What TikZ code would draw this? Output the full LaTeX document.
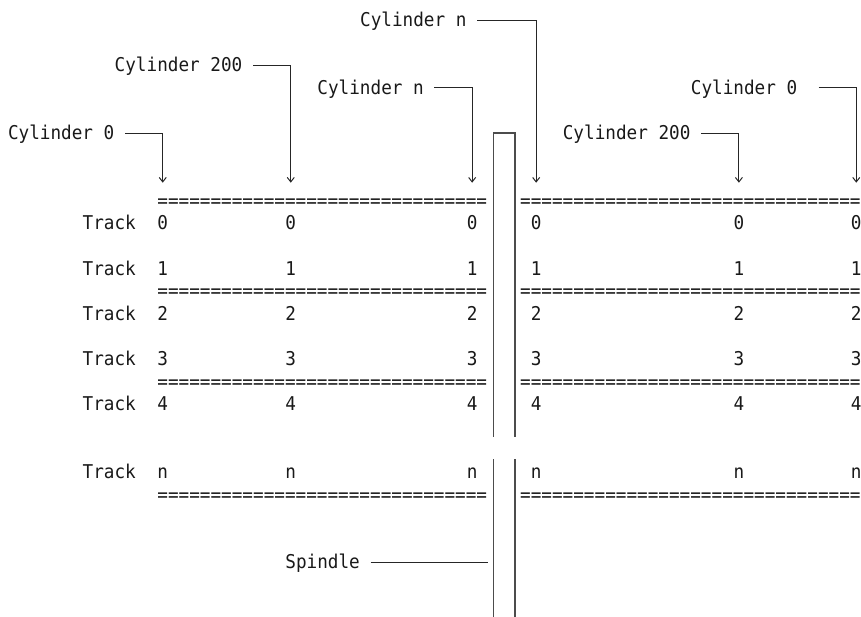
\documentclass[tikz,border=0pt]{standalone}
\usepackage{fontspec}
\newfontfamily\dmono[FakeStretch=0.93]{DejaVu Sans Mono}
\usetikzlibrary{arrows.meta}
\begin{document}
\begin{tikzpicture}[x=10.67pt,y=-22.6pt,
  txt/.style={font=\dmono\fontsize{19}{19}\selectfont, text=black!90, inner sep=0pt, outer sep=0pt, anchor=west, text height=15pt, text depth=2pt},
  conn/.style={draw=black!85, line width=1pt, -{Straight Barb[length=4.5pt,width=7pt]}},
  lead/.style={draw=black!85, line width=1pt},
  spin/.style={draw=black!70, line width=1.5pt}]
\useasboundingbox (0,0) rectangle (80.694,27.257);
\begin{scope}[shift={(0.75,0.885)}]
  % cylinder labels
  \node[txt] (cA) at (33,0) {Cylinder n};
  \node[txt] (cB) at (10,2) {Cylinder 200};
  \node[txt] (cC) at (29,3) {Cylinder n};
  \node[txt] (cD) at (64,3) {Cylinder 0};
  \node[txt] (cE) at (0,5)  {Cylinder 0};
  \node[txt] (cF) at (52,5) {Cylinder 200};
  % arrow tips
  \coordinate (tA) at (49.5,7.2);
  \coordinate (tB) at (26.5,7.2);
  \coordinate (tC) at (43.5,7.2);
  \coordinate (tD) at (79.5,7.2);
  \coordinate (tE) at (14.5,7.2);
  \coordinate (tF) at (68.5,7.2);
  \draw[conn] ([xshift=10.67pt]cA.east) -| (tA);
  \draw[conn] ([xshift=10.67pt]cB.east) -| (tB);
  \draw[conn] ([xshift=10.67pt]cC.east) -| (tC);
  \draw[conn] ([xshift=21.34pt]cD.east) -| (tD);
  \draw[conn] ([xshift=10.67pt]cE.east) -| (tE);
  \draw[conn] ([xshift=10.67pt]cF.east) -| (tF);
  % platter separators
  \foreach \r in {8,12,16,21}{
    \node[txt] (eqL\r) at (14,\r) {===============================};
    \node[txt] (eqR\r) at (48,\r) {================================};
  }
  % tracks
  \foreach \r/\t in {9/0,11/1,13/2,15/3,17/4,20/n}{
    \node[txt] (tr\r) at (7,\r) {Track};
    \foreach \c in {14,26,43,49,68,79}{
      \node[txt] (d\r-\c) at (\c,\r) {\t};
    }
  }
  % spindle
  \draw[spin] (45.5,18.45) -- (45.5,5) -- (47.5,5) -- (47.5,18.45);
  \draw[spin] (45.5,19.44) -- (45.5,26.5);
  \draw[spin] (47.5,19.44) -- (47.5,26.5);
  \node[txt] (sp) at (26,24) {Spindle};
  \coordinate (spx) at (45,24);
  \draw[lead] ([xshift=10.67pt]sp.east) -- (spx);
\end{scope}
\end{tikzpicture}
\end{document}
